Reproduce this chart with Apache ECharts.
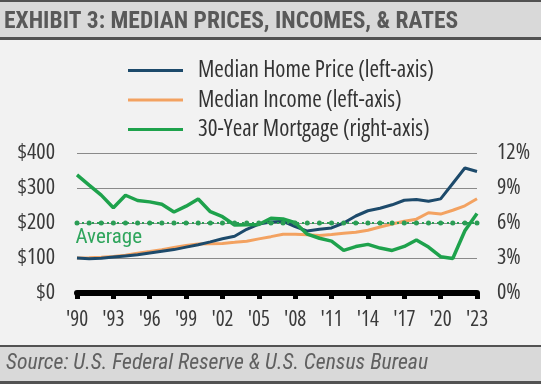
<!DOCTYPE html>
<html>
<head>
<meta charset="utf-8">
<script src="https://cdn.jsdelivr.net/npm/echarts@6/dist/echarts.min.js"></script>
<style>
html,body{margin:0;padding:0;background:#f2f2f2;}
#c{width:541px;height:384px;}
</style>
</head>
<body>
<div id="c"></div>
<script>
const years = ['1990','1991','1992','1993','1994','1995','1996','1997','1998','1999','2000','2001','2002','2003','2004','2005','2006','2007','2008','2009','2010','2011','2012','2013','2014','2015','2016','2017','2018','2019','2020','2021','2022','2023'];
const homePrice = [100, 98, 99, 103, 106, 109, 114, 119, 124, 131, 138, 146, 155, 162, 182, 197, 203, 205, 190, 177, 182, 186, 200, 220, 235, 242, 252, 265, 267, 262, 269, 313, 357, 347];
const income = [100, 100.6, 102.3, 104.3, 107.8, 113.8, 118.5, 123.6, 129.9, 135.9, 140.2, 141.0, 141.6, 144.7, 148.1, 154.7, 161.0, 167.8, 168.0, 166.2, 164.6, 167.2, 170.4, 173.5, 179.2, 188.7, 197.2, 205.0, 211.0, 229.4, 225.5, 236.4, 249.1, 269.2];
const mortgage = [10.13, 9.25, 8.39, 7.31, 8.38, 7.93, 7.81, 7.60, 6.94, 7.44, 8.05, 6.97, 6.54, 5.83, 5.84, 5.87, 6.41, 6.34, 6.03, 5.04, 4.69, 4.45, 3.66, 3.98, 4.17, 3.85, 3.65, 3.99, 4.54, 3.94, 3.11, 2.96, 5.34, 6.81];
const averageRate = 6.0;
const leftTicks = [0, 100, 200, 300, 400];
const rightTicks = [0, 3, 6, 9, 12];
const seriesNames = ['Median Home Price (left-axis)', 'Median Income (left-axis)', '30-Year Mortgage (right-axis)'];
const titleText = 'EXHIBIT 3: MEDIAN PRICES, INCOMES, & RATES';
const sourceText = 'Source: U.S. Federal Reserve & U.S. Census Bureau';

const FONT = "'Open Sans', 'Roboto Condensed', sans-serif";
const RC = "'Roboto Condensed', 'Open Sans', sans-serif";
const COND = 'condensed';
const avgData = years.map((y, i) => i === 0
  ? {value: averageRate, label: {show: true, formatter: 'Average', position: [1, 7], align: 'left', verticalAlign: 'top',
      color: '#2fa55c', fontSize: 21, fontFamily: RC}}
  : averageRate);

const chart = echarts.init(document.getElementById('c'), null, {renderer: 'canvas'});
chart.setOption({
  backgroundColor: '#f2f2f2',
  animation: false,
  graphic: [
    {type: 'rect', shape: {x: 0, y: 0, width: 541, height: 2}, style: {fill: '#525252'}, z: -1},
    {type: 'rect', shape: {x: 0, y: 2, width: 541, height: 35}, style: {fill: '#d9d9d9'}, z: -1},
    {type: 'rect', shape: {x: 0, y: 37, width: 541, height: 3}, style: {fill: '#525252'}, z: -1},
    {type: 'rect', shape: {x: 0, y: 345, width: 541, height: 2}, style: {fill: '#525252'}, z: -1},
    {type: 'rect', shape: {x: 0, y: 347, width: 541, height: 34}, style: {fill: '#d9d9d9'}, z: -1},
    {type: 'rect', shape: {x: 0, y: 381, width: 541, height: 3}, style: {fill: '#525252'}, z: -1}
  ],
  title: [
    {text: titleText, left: 4, top: 9.9, padding: 0,
     textStyle: {fontFamily: RC, fontWeight: 'bold', fontSize: 23.5, lineHeight: 23.5, color: '#595959'}},
    {text: sourceText, left: 6, top: 352.5, padding: 0,
     textStyle: {fontFamily: RC, fontStyle: 'italic', fontWeight: 'normal', fontSize: 21.7, lineHeight: 21.7, color: '#606060'}}
  ],
  legend: {
    data: seriesNames,
    orient: 'vertical',
    left: 128, top: 59,
    icon: 'rect',
    itemWidth: 55, itemHeight: 3,
    itemGap: 6.5,
    padding: 0,
    textStyle: {fontFamily: FONT, fontStyle: COND, fontSize: 23, color: '#333', lineHeight: 23, padding: [0, 0, 0, 10]}
  },
  grid: {left: 77, right: 64, top: 153, bottom: 91, containLabel: false},
  xAxis: {
    type: 'category', data: years, boundaryGap: false,
    axisLine: {lineStyle: {color: '#000', width: 6}},
    axisTick: {show: true, interval: 2, length: 6, lineStyle: {color: '#000', width: 5}},
    axisLabel: {interval: 2, formatter: v => "'" + v.slice(2), fontFamily: FONT, fontStyle: COND, fontSize: 21, lineHeight: 22, color: '#3a3a3a', margin: 16},
    splitLine: {show: false}
  },
  yAxis: [
    {type: 'value', min: leftTicks[0], max: leftTicks[leftTicks.length - 1], interval: leftTicks[1] - leftTicks[0],
     axisLine: {show: false}, axisTick: {show: false},
     axisLabel: {formatter: v => '$' + v, fontFamily: FONT, fontStyle: COND, fontSize: 22, color: '#3a3a3a', margin: 22},
     splitLine: {lineStyle: {color: '#8a8a8a', width: 1}}},
    {type: 'value', min: rightTicks[0], max: rightTicks[rightTicks.length - 1], interval: rightTicks[1] - rightTicks[0],
     axisLine: {show: false}, axisTick: {show: false},
     axisLabel: {formatter: v => v + '%', fontFamily: FONT, fontStyle: COND, fontSize: 22, color: '#3a3a3a', margin: 20},
     splitLine: {show: false}}
  ],
  series: [
    {name: seriesNames[0], type: 'line', data: homePrice, yAxisIndex: 0, symbol: 'none',
     lineStyle: {color: '#1d4a6b', width: 3}, itemStyle: {color: '#1d4a6b'}, z: 3},
    {name: seriesNames[1], type: 'line', data: income, yAxisIndex: 0, symbol: 'none',
     lineStyle: {color: '#f3a261', width: 3}, itemStyle: {color: '#f3a261'}, z: 2},
    {name: seriesNames[2], type: 'line', data: mortgage, yAxisIndex: 1, symbol: 'none',
     lineStyle: {color: '#1ea24c', width: 3.5}, itemStyle: {color: '#1ea24c'}, z: 4},
    {name: 'Average', type: 'line', data: avgData, yAxisIndex: 1, symbol: 'circle', symbolSize: 5,
     showAllSymbol: true,
     lineStyle: {color: '#2a9d55', width: 2, type: [2, 3]}, itemStyle: {color: '#2a9d55'}, z: 5}
  ]
});
</script>
</body>
</html>
